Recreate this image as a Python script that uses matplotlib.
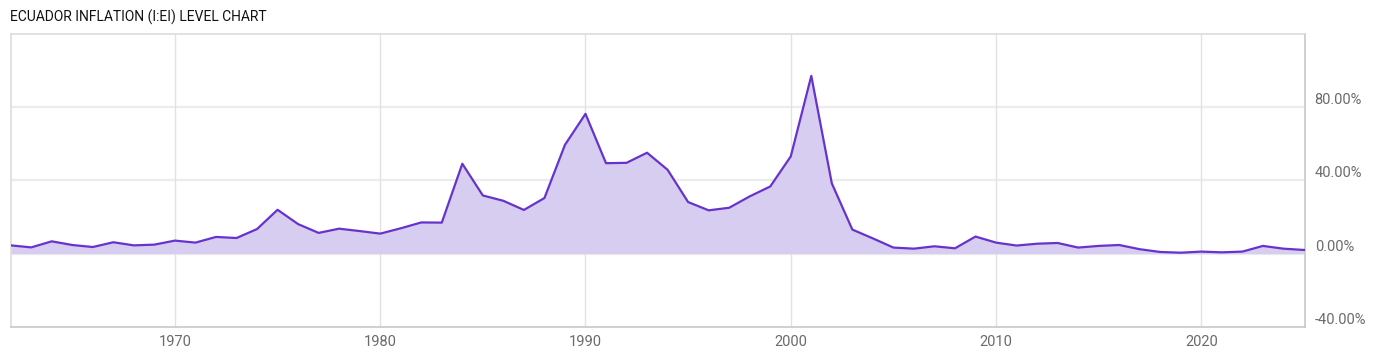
import matplotlib.pyplot as plt
import numpy as np

years = list(range(1962, 2026))
inflation = [4.5, 3.4, 6.7, 4.7, 3.6, 6.2, 4.5, 4.9, 7.1, 6.0,
             9.1, 8.5, 13.4, 23.9, 16.1, 11.3, 13.6, 12.3, 10.9, 13.8,
             17.0, 16.9, 49.0, 31.7, 28.8, 23.8, 30.3, 59.3, 76.2, 49.3,
             49.5, 55.0, 45.7, 28.1, 23.6, 25.0, 31.2, 36.6, 53.0, 96.9,
             38.3, 13.1, 8.3, 3.3, 2.7, 4.0, 2.9, 9.3, 6.0, 4.4,
             5.4, 5.8, 3.3, 4.2, 4.7, 2.4, 0.9, 0.5, 1.1, 0.7,
             1.1, 4.2, 2.7, 2.0]
xticks = [1970, 1980, 1990, 2000, 2010, 2020]
yticks = [-40, 0, 40, 80]

plt.rcParams['font.family'] = ['Roboto', 'DejaVu Sans']

fig = plt.figure(figsize=(14, 3.57), dpi=100)
ax = fig.add_axes([10.7 / 1400, 30 / 357, (1305 - 10.7) / 1400, (327 - 33.5) / 357])

line_c = '#6633cc'
fill_c = '#d7cdf0'

ax.fill_between(years, inflation, 0, color=fill_c, lw=0, zorder=2)
ax.plot(years, inflation, color=line_c, lw=1.6, zorder=3)

ax.set_xlim(1962, 2025.05)
ax.set_ylim(-40, 120)

ax.set_xticks(xticks)
ax.set_yticks(yticks)
ax.yaxis.tick_right()
ax.set_yticklabels(['%.2f%%' % v for v in yticks])
for lbl in ax.get_yticklabels():
    lbl.set_va('bottom')
ax.tick_params(axis='y', length=0, pad=7, labelsize=10.5, labelcolor='#6b6b6b')
ax.tick_params(axis='x', length=0, pad=6, labelsize=10.5, labelcolor='#6b6b6b')

ax.grid(axis='x', color='#e2e2e2', lw=1, zorder=0)
for v in [0, 40, 80]:
    ax.axhline(v, color='#ececec', lw=1.6, zorder=1)

for s in ['left', 'top']:
    ax.spines[s].set_color('#dcdcdc')
for s in ['bottom', 'right']:
    ax.spines[s].set_color('#c8c8c8')
for s in ax.spines.values():
    s.set_linewidth(1.2)

fig.text(10 / 1400, 1 - 17 / 357, 'ECUADOR INFLATION (I:EI) LEVEL CHART',
         fontsize=10, color='#111111', va='center', ha='left')

fig.savefig('out.png', dpi=100, facecolor='white')
